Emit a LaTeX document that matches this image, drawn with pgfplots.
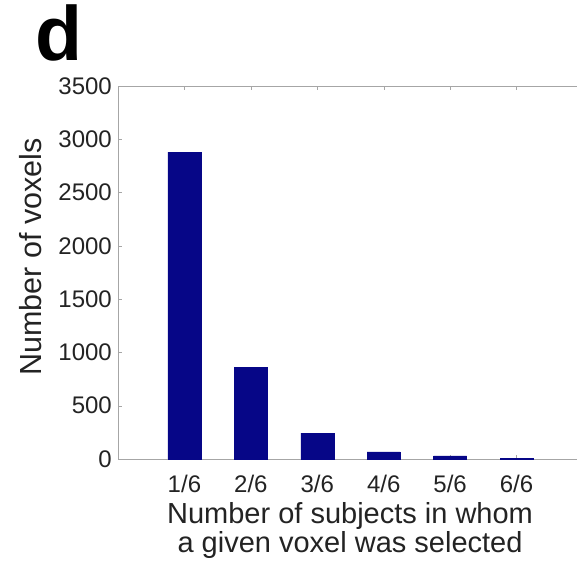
\documentclass[border=0pt]{standalone}
\usepackage{pgfplots}
\pgfplotsset{compat=1.18}
\usepackage{fontspec}
\setmainfont{Liberation Sans}
\definecolor{barblue}{RGB}{6,6,135}
\definecolor{txt}{RGB}{35,35,35}
\begin{document}
\begin{tikzpicture}
\path[use as bounding box] (0pt,0pt) rectangle (577pt,560pt);
\node[anchor=base,inner sep=0pt,font=\fontsize{77}{80}\selectfont\bfseries] at (59pt,499pt) {d};
\begin{axis}[
  at={(118pt,101pt)}, anchor=south west,
  scale only axis, width=465pt, height=373pt,
  xmin=0, xmax=7, ymin=0, ymax=3500,
  xtick={1,2,3,4,5,6},
  xticklabels={1/6,2/6,3/6,4/6,5/6,6/6},
  ytick={0,500,1000,1500,2000,2500,3000,3500},
  tick align=inside,
  major tick length=4pt,
  axis line style={gray!70, line width=0.8pt},
  tick style={gray!70},
  scaled y ticks=false,
  /pgf/number format/assume math mode=true,
  /pgf/number format/1000 sep={},
  tick label style={font=\fontsize{24}{25}\selectfont, text=txt, inner sep=0pt},
  yticklabel style={anchor=east, xshift=-6pt},
  xticklabel style={anchor=north, yshift=-16pt},
  ylabel={Number of voxels},
  ylabel style={font=\fontsize{30.5}{31}\selectfont, text=txt, inner sep=0pt,
    at={(axis description cs:-0.189,0.5416)}, anchor=center, rotate=0},
  xlabel={Number of subjects in whom\\a given voxel was selected},
  xlabel style={font=\fontsize{29}{29}\selectfont, text=txt, align=center, inner sep=0pt,
    at={(axis description cs:0.499,-0.1153)}, anchor=north},
]
\addplot[ybar, bar width=33pt, fill=barblue, draw=barblue] coordinates {
  (1,2880) (2,860) (3,244) (4,68) (5,30) (6,4)
};
\end{axis}
\end{tikzpicture}
\end{document}
